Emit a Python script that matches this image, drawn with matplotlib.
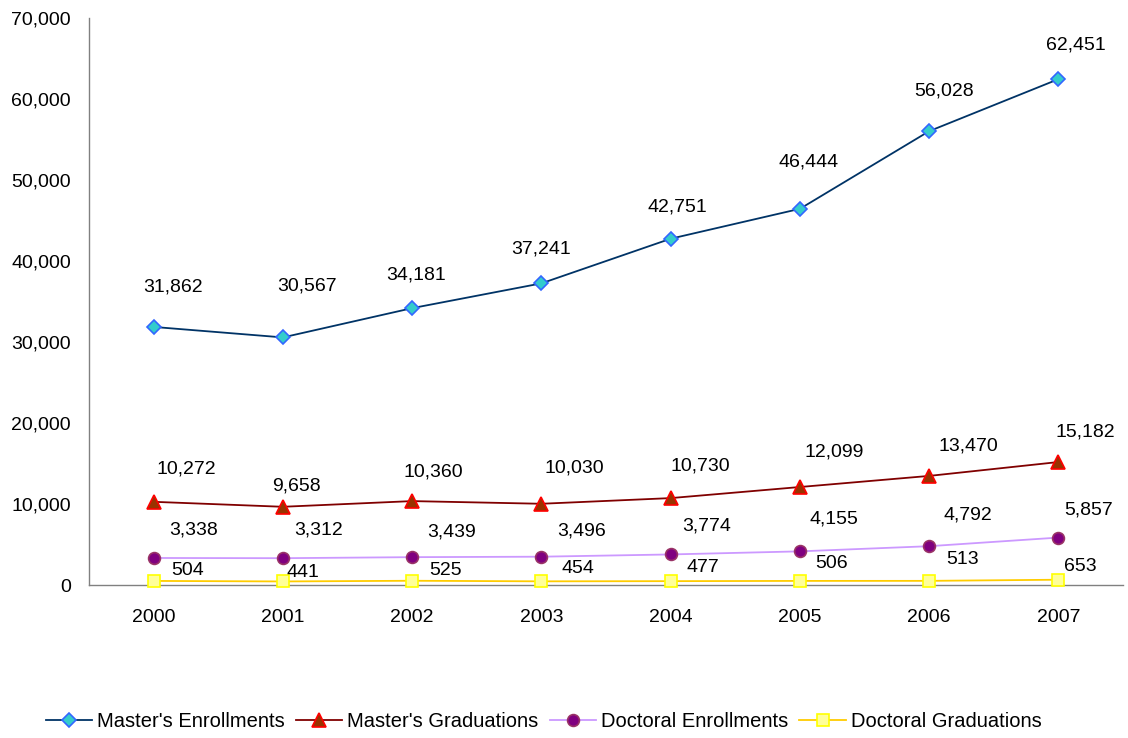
import numpy as np
import matplotlib
matplotlib.use("Agg")
import matplotlib.pyplot as plt
import matplotlib.ticker as ticker

years = ['2000', '2001', '2002', '2003', '2004', '2005', '2006', '2007']
masters_enroll = [31862, 30567, 34181, 37241, 42751, 46444, 56028, 62451]
masters_grad = [10272, 9658, 10360, 10030, 10730, 12099, 13470, 15182]
doctoral_enroll = [3338, 3312, 3439, 3496, 3774, 4155, 4792, 5857]
doctoral_grad = [504, 441, 525, 454, 477, 506, 513, 653]

# label placement (pixels right, pixels up from each marker), as hand-placed
# in the original chart
me_offsets = [(19, 40), (24, 51), (4, 33), (0, 34), (7, 32), (9, 47),
              (15, 40), (17, 34)]
mg_offsets = [(33, 33), (14, 21), (21, 29), (33, 36), (30, 32), (34, 35),
              (39, 30), (27, 30)]
de_offsets = [(40, 28), (36, 28), (39, 25), (40, 26), (36, 28), (34, 32),
              (39, 31), (30, 28)]
dg_offsets = [(34, 10), (20, 9), (33, 10), (37, 13), (32, 14), (32, 17),
              (33, 21), (22, 13)]

plt.rcParams['font.family'] = ['Liberation Sans', 'DejaVu Sans']

fig = plt.figure(figsize=(11.28, 7.38), dpi=100)
ax = fig.add_axes([0.0789, 0.2073, 0.9167, 0.7683])

x = np.arange(len(years))

# (values, label, line colour, marker, face, edge, size, label offsets)
series = [
    (masters_enroll, "Master's Enrollments", '#003366', 'D', '#33CCCC',
     '#3366FF', 7.2, me_offsets),
    (masters_grad, "Master's Graduations", '#800000', '^', '#993300',
     '#FF0000', 10, mg_offsets),
    (doctoral_enroll, "Doctoral Enrollments", '#CC99FF', 'o', '#800080',
     '#993366', 8.5, de_offsets),
    (doctoral_grad, "Doctoral Graduations", '#FFCC00', 's', '#FFFF99',
     '#FFFF00', 8.5, dg_offsets),
]

px = 72.0 / 100  # pixels -> points

for vals, name, lc, mk, fc, ec, ms, offs in series:
    ax.plot(x, vals, color=lc, lw=1.3, marker=mk, markersize=ms,
            markerfacecolor=fc, markeredgecolor=ec, markeredgewidth=1.2,
            label=name, clip_on=False, zorder=3)
    for xi, v, off in zip(x, vals, offs):
        ax.annotate('{:,}'.format(v), (xi, v),
                    xytext=(off[0] * px, off[1] * px),
                    textcoords='offset points', ha='center', va='center',
                    fontsize=14, color='black')

ax.set_xlim(-0.5, 7.5)
ax.set_ylim(0, 70000)
ax.set_xticks(x)
ax.set_xticklabels(years)
ax.set_yticks(np.arange(0, 70001, 10000))
ax.yaxis.set_major_formatter(ticker.FuncFormatter(lambda v, p: '{:,.0f}'.format(v)))
ax.tick_params(axis='both', length=0, labelsize=14)
ax.tick_params(axis='x', pad=17)
ax.tick_params(axis='y', pad=13)

for s in ['top', 'right']:
    ax.spines[s].set_visible(False)
for s in ['left', 'bottom']:
    ax.spines[s].set_color('#808080')
    ax.spines[s].set_linewidth(1.0)

fig.legend(loc='center', bbox_to_anchor=(0.482, 0.022), ncol=4,
           frameon=False, fontsize=14.5, handlelength=2.3,
           handletextpad=0.25, columnspacing=0.55)

fig.savefig('out.png', dpi=100)
